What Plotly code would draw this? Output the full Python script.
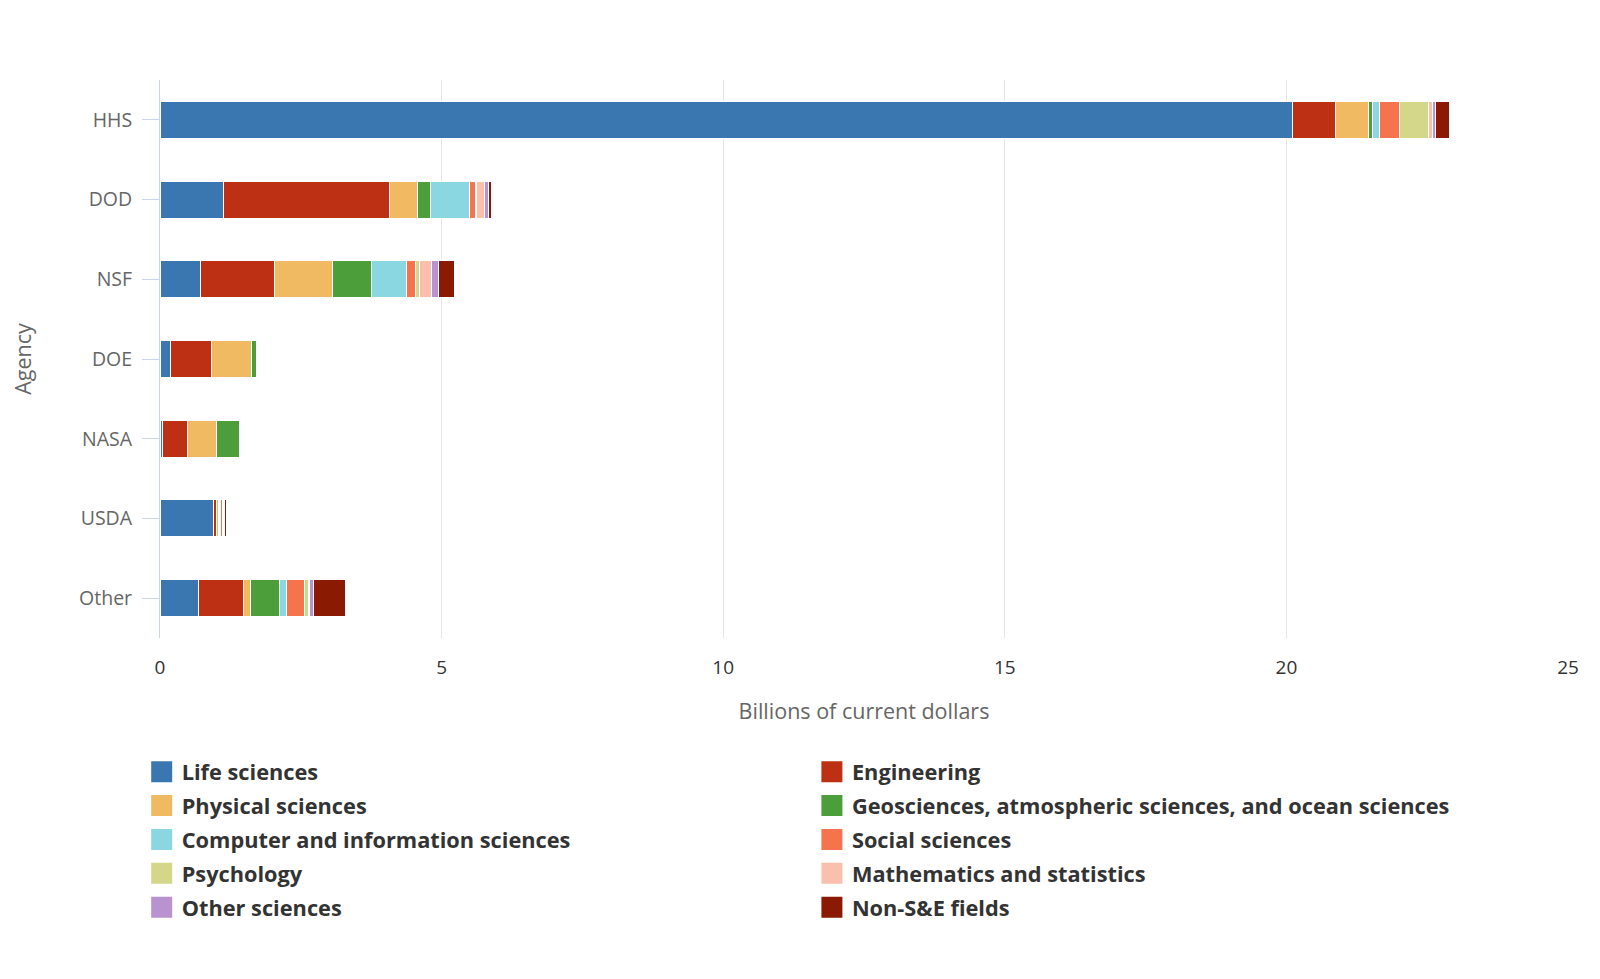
import plotly.graph_objects as go

agencies = ["HHS", "DOD", "NSF", "DOE", "NASA", "USDA", "Other"]

fields = [
    "Life sciences",
    "Engineering",
    "Physical sciences",
    "Geosciences, atmospheric sciences, and ocean sciences",
    "Computer and information sciences",
    "Social sciences",
    "Psychology",
    "Mathematics and statistics",
    "Other sciences",
    "Non-S&E fields",
]

life_sciences = [20.11, 1.13, 0.72, 0.18, 0.05, 0.95, 0.69]
engineering = [0.77, 2.94, 1.31, 0.73, 0.44, 0.06, 0.80]
physical_sciences = [0.58, 0.51, 1.03, 0.71, 0.51, 0.03, 0.11]
geosciences = [0.07, 0.22, 0.70, 0.09, 0.42, 0.02, 0.53]
computer_sciences = [0.12, 0.70, 0.61, 0.01, 0.01, 0.02, 0.11]
social_sciences = [0.36, 0.10, 0.16, 0.00, 0.00, 0.03, 0.32]
psychology = [0.52, 0.02, 0.07, 0.00, 0.00, 0.01, 0.07]
math_stats = [0.06, 0.14, 0.22, 0.00, 0.00, 0.01, 0.03]
other_sciences = [0.06, 0.07, 0.13, 0.00, 0.00, 0.01, 0.07]
non_se_fields = [0.24, 0.06, 0.28, 0.00, 0.00, 0.04, 0.56]

series = [life_sciences, engineering, physical_sciences, geosciences,
          computer_sciences, social_sciences, psychology, math_stats,
          other_sciences, non_se_fields]

colors = ["#3a77b0", "#bd3013", "#f0ba62", "#4c9e3a", "#8ad7e2",
          "#f5744d", "#d4d689", "#fbc0ad", "#b893cf", "#8b1a02"]

x_ticks = [0, 5, 10, 15, 20, 25]

FONT = "Open Sans"

fig = go.Figure()
for name, vals, col in zip(fields, series, colors):
    fig.add_trace(go.Bar(
        y=agencies, x=vals, name=name, orientation="h",
        marker=dict(color=col, line=dict(color="white", width=1)),
        showlegend=False, legendgroup=name,
    ))
# legend entries: two columns, row-major order as in the original
for i, (name, col) in enumerate(zip(fields, colors)):
    fig.add_trace(go.Scatter(
        x=[None], y=[None], mode="markers", name=name, legendgroup=name,
        legend="legend" if i % 2 == 0 else "legend2",
        marker=dict(symbol="square", size=16, color=col,
                    line=dict(color=col, width=5)),
        showlegend=True,
    ))

legend_font = dict(family=FONT, size=21.75, color="#333333", weight="bold")

fig.update_layout(
    width=1592, height=971,
    barmode="stack", bargap=0.535,
    plot_bgcolor="white", paper_bgcolor="white",
    margin=dict(l=152, r=32, t=72, b=341),
    font=dict(family=FONT, color="#666666", size=18),
    legend=dict(
        orientation="v", x=-0.013, xanchor="left", y=-0.2025, yanchor="top",
        font=legend_font, traceorder="grouped", tracegroupgap=2.6,
        itemsizing="trace",
    ),
    legend2=dict(
        orientation="v", x=0.463, xanchor="left", y=-0.2025, yanchor="top",
        font=legend_font, traceorder="grouped", tracegroupgap=2.6,
        itemsizing="trace",
    ),
    xaxis=dict(
        range=[0, 25], tickvals=x_ticks, showgrid=True, gridcolor="#e6e6e6",
        gridwidth=1, zeroline=False, showline=False,
        tickfont=dict(size=19, color="#333333"), ticklabelstandoff=16,
        title=dict(text="Billions of current dollars",
                   font=dict(size=21.5, color="#666666"), standoff=24),
    ),
    yaxis=dict(
        autorange="reversed", showgrid=False, zeroline=False,
        showline=True, linecolor="#ccd6eb", linewidth=1,
        ticks="outside", ticklen=17, tickcolor="#ccd6eb", tickwidth=1,
        ticklabelstandoff=6,
        tickfont=dict(size=19.5, color="#666666"),
        title=dict(text="Agency", font=dict(size=21.5, color="#666666"),
                   standoff=41),
    ),
)

fig.write_html("out.html")
